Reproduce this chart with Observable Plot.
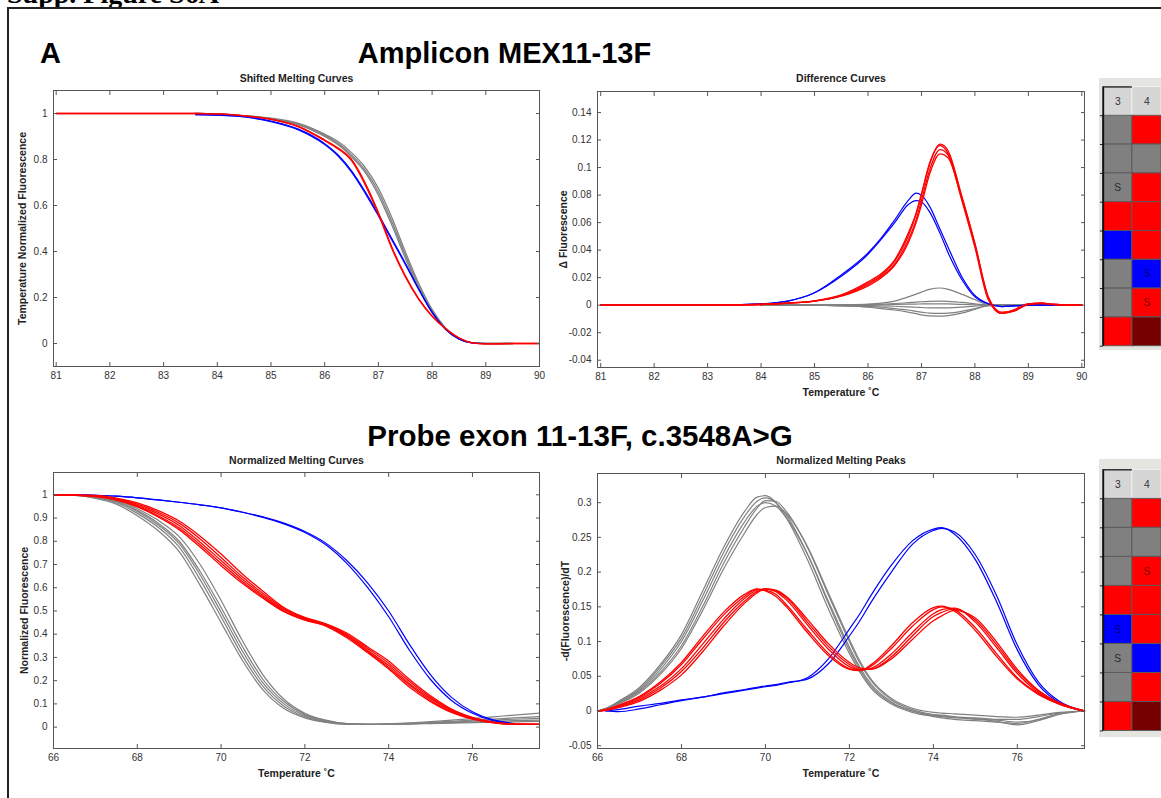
<!DOCTYPE html>
<html><head><meta charset="utf-8">
<script src="https://cdn.jsdelivr.net/npm/d3@7"></script>
<script src="https://cdn.jsdelivr.net/npm/@observablehq/plot@0.6"></script>
<style>
html,body{margin:0;padding:0;background:#fff;}
body{width:1161px;height:798px;overflow:hidden;position:relative;font-family:"Liberation Sans",Arial,sans-serif;}
.abs{position:absolute;}
#sup{left:7px;top:-20.5px;font:bold 28px/28px "Liberation Serif",serif;white-space:nowrap;color:#000;}
#box{left:7px;top:7px;width:1200px;height:900px;border-left:2px solid #222;border-top:2px solid #222;}
.big{font:bold 29px/29px "Liberation Sans",Arial,sans-serif;white-space:nowrap;color:#000;}
.ctr{width:800px;text-align:center;}
.abs svg{overflow:visible;}
</style></head><body>
<div id="sup" class="abs">Supp. Figure S6A</div>
<div id="box" class="abs"></div>
<div class="abs big" style="left:40px;top:38.5px;">A</div>
<div class="abs big ctr" style="left:104.5px;top:38.5px;">Amplicon MEX11-13F</div>
<div class="abs big ctr" style="left:180px;top:420.5px;font-size:29.5px;">Probe exon 11-13F, c.3548A&gt;G</div>
<div id="p1" class="abs" style="left:0px;top:60px;"></div>
<div id="p2" class="abs" style="left:547px;top:61px;"></div>
<div id="p3" class="abs" style="left:0px;top:442px;"></div>
<div id="p4" class="abs" style="left:547px;top:443px;"></div>
<div id="plate1" class="abs" style="left:1099px;top:78px;"></div>
<div id="plate2" class="abs" style="left:1099px;top:459px;"></div>
<script>
// ---------- Panel 1: Shifted Melting Curves (amplicon) ----------
const shiftedT = [81, 82, 83, 83.6, 84, 84.5, 85, 85.5, 86, 86.25, 86.5, 86.75, 87, 87.25, 87.5, 87.75, 88, 88.25, 88.5, 88.75, 89, 89.5, 90];
const shiftedGray1 = [null, null, null, 1, 0.998, 0.99, 0.978, 0.955, 0.905, 0.87, 0.82, 0.755, 0.66, 0.53, 0.385, 0.25, 0.14, 0.065, 0.02, 0.003, 0, 0, null];
const shiftedGray2 = [null, null, null, 1, 0.998, 0.991, 0.98, 0.958, 0.91, 0.878, 0.83, 0.767, 0.675, 0.548, 0.4, 0.262, 0.148, 0.068, 0.021, 0.003, 0, 0, null];
const shiftedGray3 = [null, null, null, 1, 0.997, 0.989, 0.976, 0.952, 0.9, 0.864, 0.812, 0.745, 0.645, 0.515, 0.372, 0.24, 0.134, 0.062, 0.019, 0.002, 0, 0, null];
const shiftedBlue1 = [null, null, null, 0.995, 0.993, 0.985, 0.965, 0.93, 0.865, 0.815, 0.745, 0.655, 0.555, 0.45, 0.345, 0.235, 0.135, 0.062, 0.02, 0.003, 0, null, null];
const shiftedBlue2 = [null, null, null, 0.995, 0.993, 0.986, 0.967, 0.933, 0.869, 0.82, 0.751, 0.662, 0.562, 0.456, 0.35, 0.238, 0.137, 0.063, 0.02, 0.003, 0, null, null];
const shiftedRed1 = [1, 1, 1, 1, 0.998, 0.99, 0.975, 0.945, 0.885, 0.85, 0.8, 0.7, 0.57, 0.42, 0.295, 0.195, 0.12, 0.065, 0.025, 0.003, -0.002, 0, 0];
const shiftedRed2 = [1, 1, 1, 1, 0.998, 0.99, 0.974, 0.943, 0.882, 0.846, 0.795, 0.692, 0.562, 0.413, 0.29, 0.192, 0.118, 0.064, 0.024, 0.003, -0.002, 0, 0];
const shiftedXTicks = [81, 82, 83, 84, 85, 86, 87, 88, 89, 90];
const shiftedYTicks = [0, 0.2, 0.4, 0.6, 0.8, 1];

// ---------- Panel 2: Difference Curves (amplicon) ----------
const diffT = [81, 82, 83, 84, 84.5, 85, 85.5, 86, 86.25, 86.5, 86.75, 86.9, 87, 87.15, 87.35, 87.5, 87.75, 88, 88.25, 88.5, 88.75, 89, 89.25, 89.5, 90];
const diffGray1 = [null, null, null, 0, 0, 0, 0.0003, 0.0008, 0.0015, 0.003, 0.006, 0.008, 0.0095, 0.0115, 0.0125, 0.0115, 0.008, 0.004, 0.0005, 0, 0, 0, 0, 0, 0];
const diffGray2 = [null, null, null, 0, 0, 0, 0.0002, 0.0005, 0.0008, 0.0012, 0.0018, 0.0022, 0.0025, 0.0028, 0.003, 0.0028, 0.002, 0.001, 0, 0, 0, 0, 0, 0, 0];
const diffGray3 = [null, null, null, 0, 0, 0, 0, 0.0002, 0.0003, 0.0005, 0.0007, 0.0008, 0.0009, 0.001, 0.001, 0.0009, 0.0006, 0.0003, 0, 0, 0, 0, 0, 0, 0];
const diffGray4 = [null, null, null, 0, 0, 0, 0, -0.0003, -0.0005, -0.0008, -0.0012, -0.0015, -0.0017, -0.0019, -0.002, -0.0019, -0.0014, -0.0007, 0, 0, 0, 0, 0, 0, 0];
const diffGray5 = [null, null, null, 0, 0, 0, -0.0005, -0.001, -0.0015, -0.0025, -0.0035, -0.0045, -0.005, -0.0058, -0.006, -0.0058, -0.0045, -0.0025, -0.0003, 0, 0, 0, 0, 0, 0];
const diffGray6 = [null, null, null, 0, 0, 0, -0.0005, -0.0015, -0.0025, -0.0035, -0.005, -0.0062, -0.007, -0.0078, -0.008, -0.0076, -0.0058, -0.003, -0.0004, 0, 0, 0, 0, 0, 0];
const diffBlue1 = [0, 0, 0, 0.001, 0.003, 0.009, 0.022, 0.038, 0.049, 0.062, 0.076, 0.0815, 0.08, 0.072, 0.055, 0.042, 0.021, 0.007, 0.001, -0.001, -0.0005, 0, 0, 0, 0];
const diffBlue2 = [0, 0, 0, 0.001, 0.003, 0.009, 0.021, 0.037, 0.048, 0.06, 0.073, 0.076, 0.075, 0.068, 0.052, 0.038, 0.019, 0.006, 0.001, -0.001, -0.0005, 0, 0, 0, 0];
const diffRed1 = [0, 0, 0, 0.0005, 0.0015, 0.003, 0.007, 0.016, 0.022, 0.032, 0.05, 0.066, 0.08, 0.102, 0.117, 0.112, 0.08, 0.045, 0.006, -0.006, -0.004, 0.001, 0.0015, 0.0005, 0];
const diffRed2 = [0, 0, 0, 0.0005, 0.0015, 0.003, 0.007, 0.015, 0.021, 0.03, 0.047, 0.062, 0.076, 0.098, 0.113, 0.109, 0.079, 0.044, 0.006, -0.005, -0.004, 0.001, 0.0015, 0.0005, 0];
const diffRed3 = [0, 0, 0, 0.0005, 0.0014, 0.003, 0.0065, 0.014, 0.02, 0.029, 0.045, 0.06, 0.073, 0.095, 0.11, 0.107, 0.078, 0.044, 0.005, -0.006, -0.004, 0.0005, 0.0012, 0.0005, 0];
const diffRed4 = [0, 0, 0, 0.0006, 0.0016, 0.0032, 0.0075, 0.017, 0.023, 0.033, 0.052, 0.067, 0.081, 0.103, 0.116, 0.11, 0.077, 0.042, 0.004, -0.006, -0.003, 0.001, 0.0015, 0.0005, 0];
const diffXTicks = [81, 82, 83, 84, 85, 86, 87, 88, 89, 90];
const diffYTicks = [-0.04, -0.02, 0, 0.02, 0.04, 0.06, 0.08, 0.1, 0.12, 0.14];

// ---------- Panel 3: Normalized Melting Curves (probe) ----------
const normT = [66, 66.5, 67, 67.5, 68, 68.5, 69, 69.5, 70, 70.5, 71, 71.5, 72, 72.5, 73, 73.5, 74, 74.5, 75, 75.5, 76, 76.5, 77, 77.6];
const normGray1 = [1, 0.998, 0.99, 0.97, 0.928, 0.87, 0.79, 0.655, 0.495, 0.33, 0.19, 0.1, 0.05, 0.025, 0.014, 0.012, 0.013, 0.016, 0.02, 0.025, 0.03, 0.035, 0.04, 0.045];
const normGray2 = [1, 0.997, 0.985, 0.96, 0.91, 0.845, 0.755, 0.61, 0.45, 0.29, 0.16, 0.08, 0.04, 0.02, 0.012, 0.012, 0.014, 0.018, 0.024, 0.03, 0.037, 0.044, 0.052, 0.06];
const normGray3 = [1, 0.999, 0.993, 0.978, 0.94, 0.89, 0.82, 0.7, 0.545, 0.375, 0.225, 0.12, 0.06, 0.03, 0.015, 0.012, 0.012, 0.013, 0.015, 0.017, 0.019, 0.021, 0.023, 0.025];
const normGray4 = [1, 0.998, 0.988, 0.966, 0.92, 0.86, 0.775, 0.635, 0.475, 0.31, 0.175, 0.09, 0.045, 0.022, 0.013, 0.012, 0.013, 0.015, 0.018, 0.022, 0.026, 0.03, 0.034, 0.038];
const normGray5 = [1, 0.998, 0.991, 0.973, 0.933, 0.878, 0.8, 0.67, 0.515, 0.35, 0.205, 0.11, 0.055, 0.028, 0.015, 0.012, 0.012, 0.014, 0.017, 0.019, 0.022, 0.025, 0.028, 0.03];
const normBlue1 = [1, 1, 0.998, 0.994, 0.987, 0.978, 0.968, 0.957, 0.944, 0.925, 0.903, 0.875, 0.838, 0.785, 0.705, 0.6, 0.475, 0.33, 0.205, 0.115, 0.06, 0.028, 0.014, null];
const normBlue2 = [1, 1, 0.998, 0.994, 0.987, 0.978, 0.968, 0.957, 0.944, 0.926, 0.905, 0.878, 0.842, 0.792, 0.717, 0.62, 0.5, 0.355, 0.225, 0.128, 0.066, 0.031, 0.015, null];
const normRed1 = [1, 0.999, 0.995, 0.982, 0.955, 0.918, 0.868, 0.796, 0.717, 0.638, 0.567, 0.505, 0.466, 0.44, 0.395, 0.33, 0.265, 0.187, 0.122, 0.07, 0.038, 0.02, 0.013, 0.012];
const normRed2 = [1, 1, 0.997, 0.986, 0.965, 0.932, 0.887, 0.822, 0.745, 0.66, 0.585, 0.515, 0.472, 0.445, 0.405, 0.345, 0.285, 0.205, 0.135, 0.078, 0.042, 0.021, 0.013, 0.012];
const normRed3 = [1, 0.998, 0.992, 0.977, 0.948, 0.905, 0.85, 0.775, 0.695, 0.62, 0.555, 0.497, 0.46, 0.435, 0.385, 0.32, 0.25, 0.172, 0.11, 0.063, 0.034, 0.018, 0.012, 0.012];
const normRed4 = [1, 0.999, 0.996, 0.984, 0.96, 0.925, 0.878, 0.81, 0.73, 0.648, 0.575, 0.51, 0.469, 0.443, 0.4, 0.338, 0.275, 0.196, 0.128, 0.074, 0.04, 0.02, 0.013, 0.012];
const normRed5 = [1, 0.998, 0.993, 0.979, 0.951, 0.91, 0.858, 0.785, 0.705, 0.628, 0.56, 0.5, 0.463, 0.437, 0.39, 0.325, 0.257, 0.18, 0.116, 0.066, 0.036, 0.019, 0.012, 0.012];
const normXTicks = [66, 68, 70, 72, 74, 76];
const normYTicks = [0, 0.1, 0.2, 0.3, 0.4, 0.5, 0.6, 0.7, 0.8, 0.9, 1];

// ---------- Panel 4: Normalized Melting Peaks (probe) ----------
const peakT = [66, 66.2, 66.5, 67, 67.5, 68, 68.5, 69, 69.5, 69.8, 70, 70.25, 70.5, 71, 71.5, 72, 72.25, 72.5, 73, 73.5, 74, 74.2, 74.5, 75, 75.5, 76, 76.5, 77, 77.6];
const peakGray1 = [0, 0.003, 0.012, 0.03, 0.06, 0.1, 0.158, 0.22, 0.272, 0.295, 0.3, 0.295, 0.278, 0.226, 0.158, 0.092, 0.063, 0.04, 0.013, 0, -0.007, -0.008, -0.01, -0.01, -0.012, -0.012, -0.008, -0.003, 0];
const peakGray2 = [0, 0.004, 0.014, 0.034, 0.067, 0.11, 0.172, 0.235, 0.287, 0.308, 0.31, 0.3, 0.278, 0.218, 0.147, 0.083, 0.056, 0.034, 0.01, -0.002, -0.008, -0.01, -0.012, -0.014, -0.016, -0.018, -0.012, -0.004, 0];
const peakGray3 = [0, 0.003, 0.011, 0.028, 0.056, 0.094, 0.15, 0.212, 0.265, 0.292, 0.303, 0.302, 0.287, 0.236, 0.167, 0.1, 0.069, 0.045, 0.016, 0.002, -0.005, -0.006, -0.008, -0.011, -0.015, -0.02, -0.014, -0.005, 0];
const peakGray4 = [0, 0.003, 0.01, 0.026, 0.053, 0.09, 0.144, 0.204, 0.256, 0.283, 0.293, 0.295, 0.284, 0.237, 0.17, 0.103, 0.072, 0.047, 0.018, 0.004, -0.002, -0.003, -0.004, -0.006, -0.008, -0.009, -0.006, -0.002, 0];
const peakGray5 = [0, 0.004, 0.013, 0.032, 0.064, 0.105, 0.165, 0.228, 0.28, 0.302, 0.307, 0.3, 0.282, 0.226, 0.155, 0.088, 0.06, 0.037, 0.012, 0, -0.006, -0.007, -0.009, -0.012, -0.013, -0.016, -0.013, -0.004, 0];
const peakBlue1 = [null, 0, 0.002, 0.007, 0.011, 0.016, 0.02, 0.025, 0.03, 0.033, 0.035, 0.037, 0.04, 0.048, 0.075, 0.118, 0.14, 0.165, 0.21, 0.245, 0.262, 0.264, 0.255, 0.218, 0.158, 0.088, 0.038, 0.012, 0];
const peakBlue2 = [null, 0, -0.001, 0.003, 0.009, 0.015, 0.02, 0.026, 0.031, 0.034, 0.036, 0.038, 0.041, 0.046, 0.068, 0.108, 0.13, 0.155, 0.2, 0.24, 0.26, 0.263, 0.258, 0.225, 0.167, 0.095, 0.042, 0.014, 0];
const peakRed1 = [0, 0.002, 0.008, 0.02, 0.04, 0.067, 0.103, 0.138, 0.165, 0.175, 0.174, 0.168, 0.153, 0.117, 0.083, 0.061, 0.058, 0.064, 0.09, 0.122, 0.146, 0.15, 0.146, 0.12, 0.083, 0.048, 0.025, 0.01, 0];
const peakRed2 = [0, 0.001, 0.005, 0.014, 0.03, 0.052, 0.085, 0.122, 0.155, 0.17, 0.176, 0.174, 0.165, 0.132, 0.097, 0.07, 0.062, 0.06, 0.075, 0.103, 0.13, 0.137, 0.145, 0.134, 0.1, 0.06, 0.03, 0.012, 0];
const peakRed3 = [0, 0.002, 0.007, 0.018, 0.036, 0.061, 0.096, 0.132, 0.162, 0.174, 0.176, 0.172, 0.16, 0.124, 0.089, 0.064, 0.059, 0.061, 0.082, 0.113, 0.14, 0.146, 0.148, 0.128, 0.092, 0.054, 0.027, 0.011, 0];
const peakRed4 = [0, 0.002, 0.008, 0.021, 0.042, 0.07, 0.107, 0.142, 0.168, 0.176, 0.173, 0.165, 0.15, 0.113, 0.08, 0.06, 0.058, 0.066, 0.094, 0.127, 0.149, 0.151, 0.144, 0.116, 0.079, 0.046, 0.024, 0.01, 0];
const peakRed5 = [0, 0.001, 0.006, 0.016, 0.033, 0.057, 0.09, 0.127, 0.158, 0.172, 0.175, 0.173, 0.163, 0.128, 0.093, 0.067, 0.06, 0.06, 0.078, 0.108, 0.136, 0.142, 0.147, 0.131, 0.096, 0.057, 0.029, 0.011, 0];
const peakXTicks = [66, 68, 70, 72, 74, 76];
const peakYTicks = [-0.05, 0, 0.05, 0.1, 0.15, 0.2, 0.25, 0.3];

// ---------- Plate maps (columns 3 and 4, rows top to bottom) ----------
const plateColumns = ["3", "4"];
const plate1Col3 = ["gray", "gray", "gray", "red", "blue", "gray", "gray", "red"];
const plate1Col4 = ["red", "gray", "red", "red", "red", "blue", "red", "darkred"];
const plate1Col3Text = ["", "", "S", "", "", "", "", ""];
const plate1Col4Text = ["", "", "", "", "", "S", "S", ""];
const plate2Col3 = ["gray", "gray", "gray", "red", "blue", "gray", "gray", "red"];
const plate2Col4 = ["red", "gray", "red", "red", "red", "blue", "red", "darkred"];
const plate2Col3Text = ["", "", "", "", "S", "S", "", ""];
const plate2Col4Text = ["", "", "S", "", "", "", "", ""];

// ---------- styling ----------
const GRAY = "#808080", RED = "#ff0000", BLUE = "#0000ff";
const cellFill = {gray: "#808080", red: "#ff0000", blue: "#0000ff", darkred: "#760000"};
const cellText = {gray: "#2a2a2a", red: "#7a0000", blue: "#000070", darkred: "#ffffff"};
const fmt = d => String(d);
const FRAME = "#555";
const LABEL_FONT = "'Liberation Sans', Arial, sans-serif";

function rows(T, vals) {
  return T.map((t, i) => ({t, v: vals[i]})).filter(d => d.v != null);
}

function panel(o) {
  const marks = [];
  for (const g of o.groups) {
    for (const s of g.list) {
      marks.push(Plot.line(rows(o.T, s), {x: "t", y: "v", stroke: g.color, strokeWidth: g.width || 1.2, curve: "monotone-x"}));
    }
  }
  marks.push(
    Plot.frame({stroke: FRAME}),
    Plot.axisX(o.xTicks, {anchor: "bottom", tickSize: -4, tickPadding: 9, tickFormat: fmt, label: null, stroke: FRAME, fill: "#333"}),
    Plot.axisX(o.xTicks, {anchor: "top", tickSize: -4, tickFormat: () => "", label: null, stroke: FRAME}),
    Plot.axisY(o.yTicks, {anchor: "left", tickSize: -4, tickPadding: 10, tickFormat: fmt, label: null, stroke: FRAME, fill: "#333"}),
    Plot.axisY(o.yTicks, {anchor: "right", tickSize: -4, tickFormat: () => "", label: null, stroke: FRAME}),
    Plot.text([o.title], {frameAnchor: "top", dy: o.titleDy, lineAnchor: "middle", textAnchor: "middle", text: d => d, fontWeight: "bold", fontSize: 10.5, fill: "#222"}),
    Plot.text([o.yLabel], {frameAnchor: "left", dx: o.yLabelDx, rotate: -90, lineAnchor: "middle", textAnchor: "middle", text: d => d, fontWeight: "bold", fontSize: 10.5, fill: "#222"})
  );
  if (o.xLabel) marks.push(Plot.text([o.xLabel], {frameAnchor: "bottom", dy: o.xLabelDy, lineAnchor: "middle", textAnchor: "middle", text: d => d, fontWeight: "bold", fontSize: 10.5, fill: "#222"}));
  return Plot.plot({
    width: o.width, height: o.height,
    marginLeft: o.mL, marginRight: o.mR, marginTop: o.mT, marginBottom: o.mB,
    x: {domain: o.xDomain}, y: {domain: o.yDomain},
    style: {background: "transparent", fontFamily: LABEL_FONT, fontSize: "10px", overflow: "visible"},
    marks
  });
}

document.getElementById("p1").append(panel({
  T: shiftedT,
  groups: [
    {color: GRAY, list: [shiftedGray1, shiftedGray2, shiftedGray3], width: 1.3},
    {color: BLUE, list: [shiftedBlue1, shiftedBlue2]},
    {color: RED, list: [shiftedRed1, shiftedRed2], width: 1.3}
  ],
  xDomain: [80.95, 90], yDomain: [-0.1, 1.1], xTicks: shiftedXTicks, yTicks: shiftedYTicks,
  width: 549, height: 338, mL: 53, mR: 10, mT: 30, mB: 32,
  title: "Shifted Melting Curves", titleDy: -12,
  yLabel: "Temperature Normalized Fluorescence", yLabelDx: -31
}));

document.getElementById("p2").append(panel({
  T: diffT,
  groups: [
    {color: GRAY, list: [diffGray1, diffGray2, diffGray3, diffGray4, diffGray5, diffGray6]},
    {color: BLUE, list: [diffBlue1, diffBlue2]},
    {color: RED, list: [diffRed1, diffRed2, diffRed3, diffRed4], width: 1.3}
  ],
  xDomain: [80.94, 90.05], yDomain: [-0.0453, 0.1553], xTicks: diffXTicks, yTicks: diffYTicks,
  width: 547, height: 338, mL: 50, mR: 10, mT: 30, mB: 32,
  title: "Difference Curves", titleDy: -13,
  yLabel: "\u0394 Fluorescence", yLabelDx: -34,
  xLabel: "Temperature \u02DAC", xLabelDy: 25
}));

document.getElementById("p3").append(panel({
  T: normT,
  groups: [
    {color: GRAY, list: [normGray1, normGray2, normGray3, normGray4, normGray5]},
    {color: BLUE, list: [normBlue1, normBlue2]},
    {color: RED, list: [normRed1, normRed2, normRed3, normRed4, normRed5], width: 1.3}
  ],
  xDomain: [66, 77.6], yDomain: [-0.092, 1.096], xTicks: normXTicks, yTicks: normYTicks,
  width: 549, height: 341, mL: 53, mR: 10, mT: 30, mB: 35,
  title: "Normalized Melting Curves", titleDy: -12,
  yLabel: "Normalized Fluorescence", yLabelDx: -29,
  xLabel: "Temperature \u02DAC", xLabelDy: 25
}));

document.getElementById("p4").append(panel({
  T: peakT,
  groups: [
    {color: GRAY, list: [peakGray1, peakGray2, peakGray3, peakGray4, peakGray5]},
    {color: BLUE, list: [peakBlue1, peakBlue2]},
    {color: RED, list: [peakRed1, peakRed2, peakRed3, peakRed4, peakRed5], width: 1.3}
  ],
  xDomain: [66, 77.6], yDomain: [-0.054, 0.342], xTicks: peakXTicks, yTicks: peakYTicks,
  width: 547, height: 340, mL: 50, mR: 10, mT: 30, mB: 35,
  title: "Normalized Melting Peaks", titleDy: -13,
  yLabel: "-d(Fluorescence)/dT", yLabelDx: -32,
  xLabel: "Temperature \u02DAC", xLabelDy: 25
}));

function plate(col3, col4, t3, t4, mT, mB, height) {
  const cols = [col3, col4], texts = [t3, t4];
  const nRows = col3.length;
  const cells = [];
  cols.forEach((c, ci) => c.forEach((kind, ri) => cells.push({col: ci, row: ri + 1, kind, s: texts[ci][ri]})));
  const header = plateColumns.map((label, ci) => ({col: ci, row: 0, label}));
  const bounds = d3.range(1, nRows + 2);
  return Plot.plot({
    width: 66, height, marginLeft: 4, marginRight: 0, marginTop: mT, marginBottom: mB,
    x: {domain: [0, 2], axis: null}, y: {domain: [nRows + 1, 0], axis: null},
    color: {type: "identity"},
    style: {background: "#e4e4e0", overflow: "hidden"},
    marks: [
      Plot.rect(header, {x1: "col", x2: d => d.col + 1, y1: "row", y2: d => d.row + 1, fill: "#d6d6d6", stroke: "#f2f2f2"}),
      Plot.text(header, {x: d => d.col + 0.5, y: d => d.row + 0.5, text: "label", fill: "#333", fontSize: 11, fontFamily: LABEL_FONT}),
      Plot.rect(cells, {x1: "col", x2: d => d.col + 1, y1: "row", y2: d => d.row + 1, fill: d => cellFill[d.kind], stroke: "#5a5a5a", strokeWidth: 1}),
      Plot.text(cells.filter(d => d.s), {x: d => d.col + 0.5, y: d => d.row + 0.5, text: "s", fill: d => cellText[d.kind], fontSize: 11, fontFamily: LABEL_FONT}),
      Plot.ruleX([0], {y1: 0, y2: nRows + 1, stroke: "#111", strokeWidth: 2}),
      Plot.ruleY([0], {x1: 0, x2: 1, stroke: "#222", strokeWidth: 1.5}),
      Plot.axisY(bounds, {anchor: "left", tickSize: 3, tickFormat: () => "", label: null, stroke: "#111"})
    ]
  });
}

document.getElementById("plate1").append(plate(plate1Col3, plate1Col4, plate1Col3Text, plate1Col4Text, 9, 5, 290));
document.getElementById("plate2").append(plate(plate2Col3, plate2Col4, plate2Col3Text, plate2Col4Text, 11, 7, 296));
</script>
</body></html>
